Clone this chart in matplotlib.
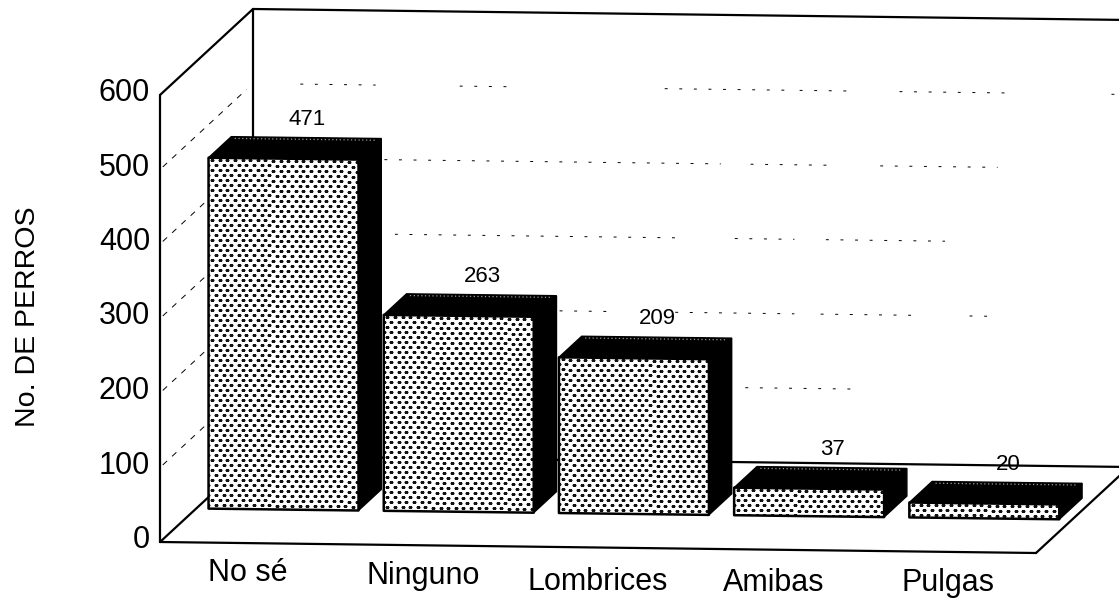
import numpy as np
import matplotlib
matplotlib.use("Agg")
import matplotlib.pyplot as plt
from matplotlib.patches import Polygon

plt.rcParams['font.family'] = ['Liberation Sans', 'DejaVu Sans']

categories = ["No sé", "Ninguno", "Lombrices", "Amibas", "Pulgas"]
values = [471, 263, 209, 37, 20]
y_ticks = [0, 100, 200, 300, 400, 500, 600]
y_title = "No. DE PERROS"

# parts of the back wall grid lines that survive in the scan, in category units
grid_spans = {
    500: [(0.27, 0.70), (1.18, 1.47), (2.35, 3.04), (3.12, 3.41), (3.69, 4.35), (4.9, 5)],
    400: [(0.75, 2.67), (2.84, 3.29), (3.58, 4.25)],
    300: [(0.81, 2.44), (2.75, 3.09), (3.27, 3.95)],
    200: [(1.75, 2.05), (2.41, 3.09), (3.24, 3.81), (4.09, 4.2)],
    100: [(2.81, 3.41)],
}


def proj(u, v, d):
    # category position, value, depth (0 front, 1 back) -> picture pixels
    return (160 + 175.2 * u + 93 * d, 542 + 2.2 * u - 0.745 * v - 86 * d)


fig = plt.figure(figsize=(11.19, 6.02), dpi=100)
ax = fig.add_axes([0, 0, 1, 1])
ax.set_xlim(0, 1119)
ax.set_ylim(602, 0)
ax.axis("off")

n = len(categories)
top = y_ticks[-1]

# walls and floor
wall = dict(color="black", lw=1.6, solid_capstyle="round")
for a, b in [((0, 0, 0), (n, 0, 0)), ((0, 0, 0), (0, top, 0)),
             ((0, top, 0), (0, top, 1)), ((0, top, 1), (0, 0, 1)),
             ((0, top, 1), (n, top, 1)), ((0, 0, 0), (0, 0, 1)),
             ((0, 0, 1), (n, 0, 1)), ((n, 0, 0), (n, 0, 1))]:
    pa, pb = proj(*a), proj(*b)
    ax.plot([pa[0], pb[0]], [pa[1], pb[1]], **wall)

# broken grid lines
for t in y_ticks[1:-1]:
    pa, pb = proj(0, t, 0.03), proj(0, t, 0.93)
    ax.plot([pa[0], pb[0]], [pa[1], pb[1]], color="black", lw=0.7, ls=(0, (6, 7)))
    for s, e in grid_spans[t]:
        pb, pc = proj(s, t, 1), proj(e, t, 1)
        ax.plot([pb[0], pc[0]], [pb[1], pc[1]], color="black", lw=0.7, ls=(0, (3, 12)))

# bars
u0, u1 = 0.07, 0.926
d0, d1 = 0.39, 0.635
for i, val in enumerate(values):
    z = 3 + i
    left, right = i + u0, i + u1
    front = [proj(left, 0, d0), proj(right, 0, d0), proj(right, val, d0), proj(left, val, d0)]
    side = [proj(right, 0, d0), proj(right, 0, d1), proj(right, val, d1), proj(right, val, d0)]
    roof = [proj(left, val, d0), proj(right, val, d0), proj(right, val, d1), proj(left, val, d1)]
    ax.add_patch(Polygon(side, fc="black", ec="black", lw=1, zorder=z))
    ax.add_patch(Polygon(roof, fc="black", ec="black", lw=1, zorder=z))
    face = Polygon(front, fc="white", ec="none", zorder=z)
    ax.add_patch(face)

    # stipple of short dashes on the front face
    xs = np.arange(front[0][0] - 4, front[1][0] + 8, 7.6)
    ys = np.arange(front[3][1] + 2, front[1][1] + 3, 5.0)
    for k, row in enumerate(ys):
        dots, = ax.plot(xs + (k % 2) * 3.8, row + 0.0126 * (xs - xs[0]), ls="none", marker="_",
                        ms=2.3, mew=1.0, color="#111111", zorder=z)
        dots.set_clip_path(face)
    ax.add_patch(Polygon(front, fc="none", ec="black", lw=1.8, joinstyle="round", zorder=z))

    # light speckle along the rear edge of the roof
    e1, e2 = proj(left + 0.03, val, d1 - 0.02), proj(right - 0.02, val, d1 - 0.02)
    ax.plot([e1[0], e2[0]], [e1[1], e2[1]], color="#999999", lw=0.9, ls=(0, (1, 2)), zorder=z)
    x, y = proj(i + 0.5, val, 0.5)
    ax.text(x + 13, y - 30, str(val), fontsize=16, ha="center", va="center", zorder=20)

# tick labels and title
for t in y_ticks:
    x, y = proj(0, t, 0)
    ax.text(x - 10, y - 2, str(t), fontsize=22, ha="right", va="center")
label_drop = [3, 4, 7, 6, 4]
for i, name in enumerate(categories):
    x, y = proj(i + 0.5, 0, 0)
    ax.text(x, y + 27 + label_drop[i], name, fontsize=22, ha="center", va="center")
ax.text(28, 317, y_title, fontsize=20.5, rotation=90, ha="center", va="center")

fig.savefig("out.png", dpi=100)
